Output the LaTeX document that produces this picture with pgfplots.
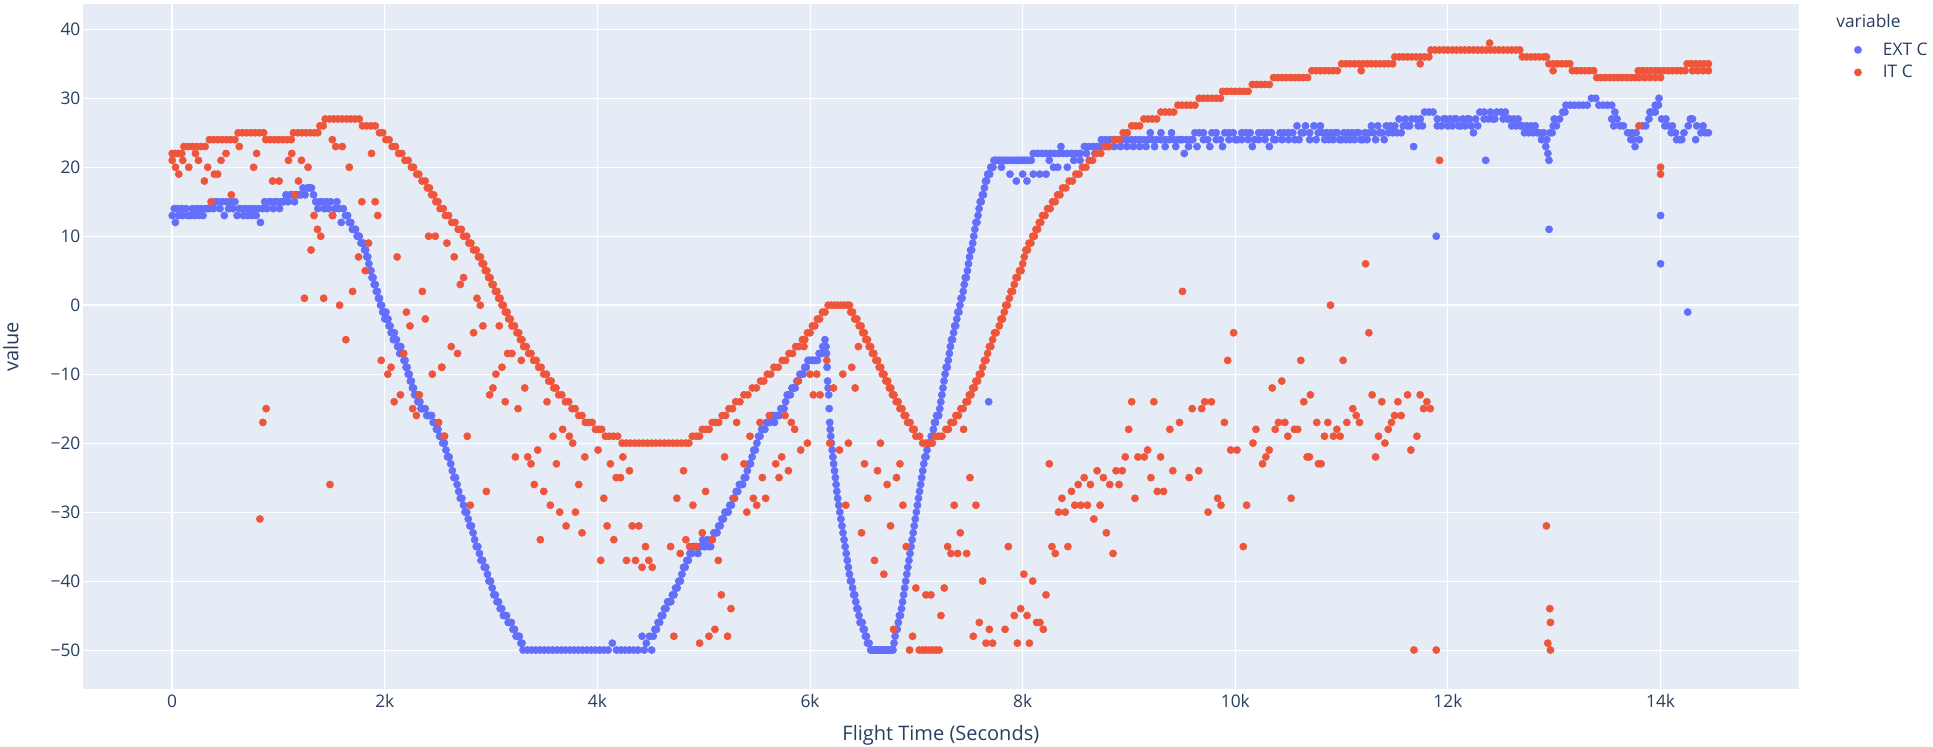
\documentclass[border=0pt]{standalone}
\usepackage{fontspec}
\setmainfont{Open Sans}
\usepackage{pgfplots}
\pgfplotsset{compat=1.18}
\definecolor{extc}{HTML}{636EFA}
\definecolor{itc}{HTML}{EF553B}
\definecolor{plotbg}{HTML}{E5ECF6}
\definecolor{txt}{HTML}{2A3F5F}
\begin{document}
\begin{tikzpicture}
\path[use as bounding box, fill=white] (-62pt,-42.5pt) rectangle (1387.7pt,517pt);
\begin{axis}[
  at={(0pt,0pt)}, anchor=south west, scale only axis,
  width=1287.2pt, height=514pt,
  xmin=-842, xmax=15302, ymin=-55.7, ymax=43.67,
  scaled x ticks=false, scaled y ticks=false,
  axis background/.style={fill=plotbg},
  axis line style={draw=none},
  major tick length=0pt, tick style={draw=none},
  xtick={0,2000,4000,6000,8000,10000,12000,14000},
  xticklabels={0,2k,4k,6k,8k,10k,12k,14k},
  ytick={-50,-40,-30,-20,-10,0,10,20,30,40},
  yticklabels={−50,−40,−30,−20,−10,0,10,20,30,40},
  grid=major,
  major grid style={white, line width=0.75pt},
  extra x ticks={0}, extra x tick labels={},
  extra y ticks={0}, extra y tick labels={},
  extra tick style={major grid style={white, line width=1.5pt}},
  tick label style={font=\fontsize{13}{15}\selectfont, text=txt},
  xticklabel style={anchor=base, inner sep=0pt, yshift=-13.4pt},
  yticklabel style={anchor=east, inner sep=0pt, xshift=-1.5pt},
  legend entries={EXT C, IT C},
  legend image code/.code={\draw[#1] plot coordinates {(0pt,0pt)};},
  legend style={at={(1.0321,0.948)}, anchor=north west, draw=none, fill=none,
    inner sep=0pt, row sep=2pt, font=\fontsize{13}{15}\selectfont, text=txt,
    /tikz/every odd column/.append style={column sep=14pt}},
  legend cell align=left,
]
% EXT C main
\addplot[only marks, mark=*, mark size=2.7pt, color=extc] coordinates {
(0,13)(20,14)(30,12)(50,14)(60,13)(90,14)(100,13)(130,14)(150,13)(170,13)(190,14)(210,13)(230,14)(250,13)(270,14)(290,13)(310,14)(330,14)(350,14)(370,15)(390,14)(410,15)(430,15)(450,14)(470,15)(490,13)(510,15)(530,14)(550,15)(570,14)(590,15)(610,13)(630,14)(650,14)(670,13)(690,14)(710,13)(730,14)(750,13)(770,14)(790,13)(810,14)(830,12)(850,14)(870,15)(890,14)(910,15)(930,15)(950,14)(970,15)(990,15)(1010,14)(1030,15)(1050,15)(1070,16)(1090,15)(1110,16)(1130,16)(1150,15)(1170,16)(1190,16)(1210,16)(1230,17)(1250,16)(1270,17)(1290,17)(1310,17)(1330,16)(1350,15)(1370,14)(1390,15)(1410,15)(1430,14)(1450,15)(1470,14)(1490,15)(1510,13)(1530,14)(1550,15)(1570,14)(1590,12)(1610,14)(1630,13)
(1650,13)(1680,12)(1710,11)(1740,10)(1760,10)(1790,9)(1810,8)(1830,7)(1850,6)(1870,5)(1890,4)(1910,3)(1930,2)(1950,1)(1970,0)(1990,-1)(2010,-1)(2030,-2)(2050,-3)(2070,-4)(2090,-4)(2110,-5)(2130,-6)(2150,-6)(2170,-7)(2190,-8)(2210,-9)(2230,-10)(2250,-11)(2270,-12)(2290,-13)(2310,-14)(2330,-14)(2350,-15)(2380,-15)(2410,-16)(2440,-16)(2470,-17)(2500,-18)(2530,-19)(2560,-20)(2590,-22)(2620,-23)(2650,-25)(2680,-26)(2710,-28)(2740,-29)(2770,-30)(2800,-32)(2830,-33)(2860,-35)(2890,-36)(2920,-37)(2950,-38)(2980,-40)(3010,-41)(3040,-42)(3070,-43)(3100,-44)(3130,-45)(3160,-46)(3190,-46)(3220,-47)(3250,-48)(3280,-49)(3300,-50)
(3340,-50)(3380,-50)(3420,-50)(3460,-50)(3500,-50)(3540,-50)(3580,-50)(3620,-50)(3660,-50)(3700,-50)(3740,-50)(3780,-50)(3820,-50)(3860,-50)(3900,-50)(3940,-50)(3980,-50)(4020,-50)(4060,-50)(4100,-50)(4140,-49)(4180,-50)(4220,-50)(4260,-50)(4300,-50)(4340,-50)(4380,-50)(4420,-48)(4440,-50)(4460,-49)(4490,-48)(4510,-50)(4540,-47)(4570,-46)(4600,-45)(4630,-44)(4660,-43)(4690,-43)(4720,-42)(4750,-41)(4780,-40)(4810,-38)(4840,-37)(4870,-36)(4900,-35)(4930,-35)(4960,-35)(4990,-34)(5020,-35)(5050,-35)(5080,-34)(5110,-33)(5140,-32)(5170,-31)(5200,-30)(5230,-30)(5260,-29)(5290,-28)(5320,-27)(5350,-26)(5380,-25)(5410,-24)(5440,-23)(5470,-21)(5500,-20)(5530,-19)(5560,-18)(5590,-17)(5620,-17)(5650,-16)(5680,-16)(5710,-16)(5740,-15)(5770,-14)(5800,-13)(5830,-12)(5860,-12)(5890,-11)(5920,-10)(5950,-9)(5980,-8)(6010,-8)(6040,-8)(6070,-8)(6100,-7)(6120,-6)(6140,-5)(6150,-6)(6160,-9)(6170,-12)(6180,-15)(6190,-18)(6200,-20)(6215,-22)(6230,-24)(6245,-26)(6260,-28)(6280,-30)(6300,-32)(6320,-34)(6340,-36)(6360,-38)(6380,-40)(6400,-41)(6420,-42)(6440,-44)(6460,-45)(6480,-46)(6500,-47)(6520,-48)(6540,-49)(6570,-50)(6600,-50)(6630,-50)(6660,-50)(6690,-50)(6720,-50)(6750,-50)(6780,-50)(6800,-48)(6820,-47)(6840,-45)(6860,-44)(6880,-42)(6900,-40)(6920,-38)(6940,-36)(6960,-34)(6980,-32)(7000,-30)(7020,-28)(7040,-26)(7060,-24)(7080,-22)(7100,-21)(7120,-20)(7140,-19)(7160,-18)(7180,-17)(7200,-16)(7220,-15)(7240,-13)(7260,-11)(7280,-9)(7300,-8)(7320,-6)(7340,-5)(7360,-3)(7380,-2)(7400,-1)(7420,1)(7440,2)(7460,4)(7480,5)(7500,7)(7520,8)(7540,10)(7560,12)(7580,13)(7600,15)(7620,16)(7640,17)(7660,18)(7680,19)(7700,20)(7720,20)
(7740,21)(7780,21)(7820,21)(7860,21)(7900,21)(7940,21)(7980,21)(8020,21)(8060,21)(8100,22)(8140,22)(8180,22)(8220,22)(8260,22)(8300,22)(8340,22)(8380,22)(8420,22)(8460,22)(8500,22)(8540,22)(8580,23)(8620,23)(8660,23)(8700,23)(8740,24)(8780,24)(8820,24)(8860,24)(8900,24)(8940,24)(8980,24)(9020,24)(9060,24)(9100,24)(9140,24)(9180,24)(9220,24)(9260,24)(9300,24)(9340,24)(9380,24)(9420,24)(9460,24)(9500,24)(9540,24)(9580,24)(9620,25)(9660,25)(9700,25)(9740,24)(9780,25)(9820,25)(9860,24)(9900,25)(9940,25)(9980,25)(10020,24)(10060,25)(10100,25)(10140,25)(10180,24)(10220,25)(10260,25)(10300,25)(10340,25)(10380,24)(10420,25)(10460,25)(10500,25)(10540,25)(10580,26)(10620,25)(10660,26)(10700,25)(10740,26)(10780,25)(10820,25)(10860,25)(10900,25)(10940,25)(10980,24)(11020,25)(11060,25)(11100,25)(11140,25)(11180,24)(11220,25)(11260,25)(11300,25)(11340,26)(11380,25)(11420,26)(11460,26)(11500,26)(11540,27)(11580,26)(11620,26)(11660,27)(11700,27)(11740,27)(11780,28)(11820,28)(11860,28)(11900,27)(11940,26)(11980,27)(12020,27)(12060,27)(12100,26)(12140,27)(12180,27)(12220,26)(12260,27)(12300,28)(12340,28)(12380,27)(12420,27)(12460,28)(12500,28)(12540,28)(12580,27)(12620,27)(12660,27)(12700,26)(12740,26)(12780,26)(12820,26)(12860,25)(12900,25)(12930,24)(12960,25)(12990,26)(13020,26)(13050,27)(13080,28)(13110,29)(13150,29)(13190,29)(13230,29)(13270,29)(13310,29)(13350,30)(13390,30)(13420,29)(13460,29)(13500,29)(13540,29)(13570,28)(13590,27)(13620,26)(13650,26)(13690,25)(13730,25)(13770,25)(13800,24)(13830,26)(13860,26)(13890,27)(13920,28)(13950,28)(13980,29)(14010,27)(14040,26)(14070,26)(14100,25)(14140,25)(14180,24)(14220,25)(14260,26)(14300,27)(14340,26)(14380,25)(14420,25)(14450,25)
};
% EXT C further readings (between the ones above, second row, isolated)
\addplot[only marks, mark=*, mark size=2.7pt, color=extc, forget plot] coordinates {
(1665,12)(1695,11)(1725,11)(1750,10)(1775,9)(1800,9)(1820,8)(1840,7)(1860,5)(1880,4)(1900,3)(1920,2)(1940,1)(1960,0)(1980,-1)(2000,-2)(2020,-2)(2040,-3)(2060,-4)(2080,-5)(2100,-5)(2120,-6)(2140,-7)(2160,-7)(2180,-8)(2200,-9)(2220,-10)(2240,-11)(2260,-12)(2280,-13)(2300,-13)(2320,-14)(2340,-15)(2365,-15)(2395,-16)(2425,-16)(2455,-17)(2485,-18)(2515,-19)(2545,-20)(2575,-21)(2605,-22)(2635,-24)(2665,-25)(2695,-27)(2725,-28)(2755,-30)(2785,-31)(2815,-32)(2845,-34)(2875,-35)(2905,-37)(2935,-38)(2965,-39)(2995,-40)(3025,-42)(3055,-43)(3085,-44)(3115,-45)(3145,-45)(3175,-46)(3205,-47)(3235,-48)(3265,-48)(3290,-49)
(4525,-48)(4555,-47)(4585,-46)(4615,-45)(4645,-44)(4675,-43)(4705,-42)(4735,-41)(4765,-40)(4795,-39)(4825,-38)(4855,-37)(4885,-36)(4915,-35)(4945,-36)(4975,-35)(5005,-35)(5035,-34)(5065,-35)(5095,-33)(5125,-33)(5155,-32)(5185,-31)(5215,-30)(5245,-29)(5275,-28)(5305,-27)(5335,-26)(5365,-26)(5395,-25)(5425,-23)(5455,-22)(5485,-21)(5515,-19)(5545,-18)(5575,-18)(5605,-17)(5635,-16)(5665,-17)(5695,-16)(5725,-15)(5755,-15)(5785,-13)(5815,-13)(5845,-12)(5875,-11)(5905,-10)(5935,-10)(5965,-9)(5995,-8)(6025,-8)(6055,-8)(6085,-7)(6110,-7)(6130,-6)
(6155,-7)(6165,-11)(6175,-13)(6185,-17)(6195,-19)(6208,-21)(6222,-23)(6238,-25)(6252,-27)(6270,-29)(6290,-31)(6310,-33)(6330,-35)(6350,-37)(6370,-39)(6390,-40)(6410,-42)(6430,-43)(6450,-44)(6470,-46)(6490,-46)(6510,-47)(6530,-48)(6555,-49)(6585,-50)(6615,-50)(6645,-50)(6675,-50)(6705,-50)(6735,-50)(6765,-50)(6790,-49)
(6810,-47)(6830,-46)(6850,-45)(6870,-43)(6890,-41)(6910,-39)(6930,-37)(6950,-35)(6970,-33)(6990,-31)(7010,-29)(7030,-27)(7050,-25)(7070,-23)(7090,-22)(7110,-20)(7130,-20)(7150,-19)(7170,-17)(7190,-16)(7210,-16)(7230,-14)(7250,-12)(7270,-10)(7290,-9)(7310,-7)(7330,-5)(7350,-4)(7370,-3)(7390,-1)(7410,0)(7430,1)(7450,3)(7470,4)(7490,6)(7510,8)(7530,9)(7550,11)(7570,12)(7590,14)(7610,15)(7630,16)(7650,18)(7670,19)(7690,19)(7710,20)(7730,21)(7760,21)(7800,21)(7840,21)(7880,21)(7920,21)(7960,21)(8000,21)(8040,21)(8080,21)
(7800,20)(7880,19)(7940,18)(8000,19)(8040,18)(8100,19)(8160,19)(8220,19)(8250,21)(8290,20)(8330,20)(8360,23)(8420,20)(8480,21)(8540,21)(8600,22)(8680,22)(8740,23)(8800,23)(8860,23)(8920,23)(8980,23)(9040,23)(9100,23)(9160,23)(9200,25)(9240,23)(9300,25)(9340,23)(9400,25)(9440,23)(9480,24)(9520,22)(9560,23)(9600,24)(9640,23)(9700,24)(9760,23)(9820,24)(9880,23)(9940,24)(10000,24)(10060,24)(10120,24)(10160,23)(10220,24)(10280,24)(10320,23)(10360,24)(10440,24)(10500,24)(10560,24)(10600,24)(10640,25)(10700,24)(10760,24)(10800,26)(10840,24)(10880,24)(10920,24)(10960,25)(11000,24)(11040,24)(11080,24)(11120,24)(11160,25)(11200,24)(11240,24)(11280,26)(11320,24)(11360,25)(11400,24)(11440,25)(11480,25)(11520,25)(11560,25)(11600,27)(11640,26)(11720,26)(11760,26)(11900,26)(11960,27)(12000,26)(12040,26)(12080,27)(12120,26)(12160,26)(12200,27)(12240,25)(12280,26)(12340,27)(12400,28)(12440,27)(12520,27)(12560,27)(12600,26)(12640,26)(12680,26)(12720,25)(12760,25)(12800,25)(12840,25)(12880,24)(12920,23)(12940,22)(12950,21)(12980,25)(13000,27)(13100,28)(13540,27)(13560,26)(13720,24)(13740,24)(13760,23)(13900,28)(13950,29)(13985,30)(14050,27)(14110,26)(14150,24)(14200,24)(14280,27)(14330,24)(14400,26)
(7680,-14)(11677,23)(11890,10)(12355,21)(12951,11)(14000,13)(14000,6)(14255,-1)
};
% IT C main
\addplot[only marks, mark=*, mark size=2.7pt, color=itc] coordinates {
(0,22)(30,22)(60,22)(90,22)(110,23)(150,23)(190,23)(230,23)(270,23)(310,23)(350,24)(390,24)(430,24)(470,24)(510,24)(550,24)(590,24)(620,25)(660,25)(700,25)(740,25)(780,25)(820,25)(860,25)(880,24)(920,24)(960,24)(1000,24)(1040,24)(1080,24)(1120,24)(1140,25)(1180,25)(1220,25)(1260,25)(1300,25)(1340,25)(1370,25)(1390,26)(1420,26)(1440,27)(1480,27)(1520,27)(1560,27)(1600,27)(1640,27)(1680,27)(1720,27)(1760,27)(1790,26)(1830,26)(1870,26)(1910,26)(1950,25)(1980,25)(2010,24)(2040,24)(2070,23)(2100,23)(2130,22)(2160,22)(2190,21)(2220,21)(2250,20)(2270,20)(2300,19)(2320,19)(2350,18)(2380,18)(2400,17)(2420,17)(2440,16)(2460,16)(2480,15)(2500,15)(2520,14)(2550,14)(2570,13)(2600,13)(2630,12)(2660,12)(2690,11)(2720,11)(2740,10)(2770,10)(2790,9)(2810,9)(2835,8)(2860,8)(2880,7)(2900,7)(2915,6)(2930,6)(2945,5)(2960,5)(2976,4)(2990,4)(3008,3)(3020,3)(3040,2)(3055,2)(3071,1)(3085,1)(3102,0)(3115,0)(3133,-1)(3150,-1)(3165,-2)(3180,-2)(3196,-3)(3220,-3)(3243,-4)(3260,-4)(3275,-5)(3290,-5)(3306,-6)(3330,-6)(3353,-7)(3375,-7)(3400,-8)(3425,-8)(3447,-9)(3470,-9)(3495,-10)(3520,-10)(3541,-11)(3565,-11)(3589,-12)(3610,-12)(3636,-13)(3665,-13)(3699,-14)(3730,-14)(3761,-15)(3790,-15)(3824,-16)(3855,-16)(3887,-17)(3920,-17)(3950,-17)(3981,-18)(4010,-18)(4040,-18)(4075,-19)(4110,-19)(4150,-19)(4190,-19)(4232,-20)(4270,-20)(4310,-20)(4350,-20)(4390,-20)(4430,-20)(4470,-20)(4510,-20)(4550,-20)(4590,-20)(4630,-20)(4670,-20)(4710,-20)(4750,-20)(4790,-20)(4830,-20)(4860,-20)(4892,-19)(4930,-19)(4960,-19)(4986,-18)(5020,-18)(5050,-18)(5080,-17)(5110,-17)(5140,-17)(5174,-16)(5205,-16)(5237,-15)(5270,-15)(5300,-14)(5340,-14)(5378,-13)(5415,-13)(5457,-12)(5495,-12)(5535,-11)(5565,-11)(5598,-10)(5630,-10)(5661,-9)(5700,-9)(5739,-8)(5770,-8)(5802,-7)(5835,-7)(5865,-6)(5895,-6)(5928,-5)(5950,-5)(5975,-4)(6000,-4)(6022,-3)(6045,-3)(6069,-2)(6090,-2)(6116,-1)(6140,-1)(6170,0)(6200,0)(6230,0)(6260,0)(6290,0)(6320,0)(6350,0)(6370,0)(6383,-1)(6400,-1)(6420,-2)(6440,-2)(6462,-3)(6480,-3)(6495,-4)(6510,-4)(6524,-5)(6540,-5)(6556,-6)(6570,-6)(6587,-7)(6600,-7)(6618,-8)(6635,-8)(6650,-9)(6665,-9)(6680,-10)(6695,-10)(6713,-11)(6730,-11)(6745,-12)(6760,-12)(6775,-13)(6790,-13)(6810,-14)(6828,-14)(6845,-15)(6865,-15)(6885,-16)(6900,-16)(6917,-17)(6940,-17)(6964,-18)(6980,-18)(6995,-19)(7030,-19)(7060,-20)(7090,-20)(7120,-20)(7150,-20)(7180,-19)(7210,-19)(7240,-19)(7278,-18)(7300,-18)(7325,-17)(7350,-17)(7372,-16)(7395,-16)(7419,-15)(7440,-15)(7466,-14)(7482,-14)(7498,-13)(7514,-13)(7529,-12)(7545,-12)(7560,-11)(7576,-11)(7592,-10)(7608,-10)(7623,-9)(7640,-8)(7655,-8)(7670,-7)(7686,-6)(7700,-6)(7717,-5)(7735,-4)(7750,-4)(7780,-3)(7795,-2)(7810,-2)(7827,-1)(7840,0)(7855,0)(7874,1)(7890,2)(7905,2)(7921,3)(7937,4)(7950,4)(7969,5)(7985,5)(8000,6)(8015,7)(8030,8)(8045,8)(8060,9)(8077,9)(8094,10)(8110,10)(8125,11)(8140,11)(8156,12)(8170,12)(8187,13)(8210,13)(8234,14)(8258,14)(8281,15)(8305,15)(8328,16)(8350,16)(8375,17)(8405,17)(8437,18)(8468,18)(8500,19)(8530,19)(8562,20)(8595,20)(8625,21)(8656,21)(8690,22)(8734,22)(8770,23)(8812,23)(8860,24)(8906,24)(8945,25)(8984,25)(9025,26)(9062,26)(9100,26)(9140,27)(9180,27)(9220,27)(9260,27)(9300,28)(9340,28)(9380,28)(9420,28)(9460,29)(9500,29)(9540,29)(9580,29)(9620,29)(9660,30)(9700,30)(9740,30)(9780,30)(9820,30)(9860,30)(9880,31)(9920,31)(9960,31)(10000,31)(10040,31)(10080,31)(10120,31)(10160,32)(10200,32)(10240,32)(10280,32)(10320,32)(10360,33)(10400,33)(10440,33)(10480,33)(10520,33)(10560,33)(10600,33)(10640,33)(10680,33)(10720,34)(10760,34)(10800,34)(10840,34)(10880,34)(10920,34)(10960,34)(11000,35)(11040,35)(11080,35)(11120,35)(11160,35)(11200,35)(11240,35)(11280,35)(11320,35)(11360,35)(11400,35)(11440,35)(11480,35)(11500,36)(11540,36)(11580,36)(11620,36)(11660,36)(11700,36)(11740,36)(11780,36)(11820,36)(11840,37)(11880,37)(11920,37)(11960,37)(12000,37)(12040,37)(12080,37)(12120,37)(12160,37)(12200,37)(12240,37)(12280,37)(12320,37)(12360,37)(12400,37)(12440,37)(12480,37)(12520,37)(12560,37)(12600,37)(12640,37)(12675,37)(12700,36)(12740,36)(12780,36)(12820,36)(12860,36)(12900,36)(12926,36)(12950,35)(12990,35)(13030,35)(13070,35)(13110,35)(13146,35)(13170,34)(13210,34)(13250,34)(13290,34)(13330,34)(13370,34)(13400,33)(13440,33)(13480,33)(13520,33)(13560,33)(13600,33)(13640,33)(13680,33)(13720,33)(13760,33)(13800,33)(13850,33)(13900,33)(13950,33)(14000,33)(13790,34)(13830,34)(13870,34)(13910,34)(13950,34)(13990,34)(14030,34)(14070,34)(14110,34)(14150,34)(14190,34)(14230,34)(14300,34)(14350,34)(14400,34)(14450,34)(14250,35)(14290,35)(14330,35)(14370,35)(14410,35)(14450,35)
};
% IT C scattered readings
\addplot[only marks, mark=*, mark size=2.7pt, color=itc, forget plot] coordinates {
(0,21)(31,20)(62,19)(100,21)(156,20)(219,22)(247,21)(303,18)(334,20)(366,15)(397,19)(428,19)(459,21)(506,22)(556,16)(631,23)(766,20)(794,22)(853,-17)(884,-15)(825,-31)(944,18)(1006,18)(1094,21)(1125,22)(1156,16)(1188,18)(1216,21)(1278,20)(1244,1)(1306,8)(1334,13)(1366,11)(1397,10)(1425,1)(1484,-26)(1506,13)(1506,24)(1538,23)(1575,0)(1600,23)(1634,-5)(1666,20)(1697,2)(1784,15)(1816,5)(1753,7)(1847,9)(1875,22)(1909,15)(1934,13)(1966,-8)(2028,-10)(2059,-9)(2088,-14)(2147,-13)(2116,7)(2203,-1)(2237,-3)(2178,-7)(2262,-15)(2297,-16)(2325,-13)(2353,2)(2381,-2)(2412,10)(2475,10)(2447,-10)(2534,-9)(2506,-17)(2559,-19)(2584,9)
(2653,7)(2710,3)(2741,4)(2867,1)(2898,0)(2835,-4)(2923,-3)(3077,-3)(2625,-6)(2684,-7)(2537,-9)(2986,-13)(3017,-12)(3045,-10)(3102,-9)(3155,-7)(3196,-7)(3284,-8)(3316,-12)(3133,-14)(3253,-15)(2562,-19)(2776,-19)(2804,-29)(2955,-27)(3228,-22)(3344,-22)(3375,-23)(3438,-21)(3406,-26)(3495,-27)(3463,-34)(3526,-14)(3557,-29)(3645,-30)(3582,-19)(3614,-23)(3673,-18)(3736,-19)(3767,-20)(3705,-32)(3793,-30)(3824,-26)(3855,-33)(3881,-22)(4006,-21)(4031,-37)(4060,-28)(4091,-32)(4122,-23)(4154,-34)(4176,-25)(4217,-25)(4239,-22)(4301,-24)(4273,-37)(4327,-32)(4389,-32)(4358,-37)(4420,-38)(4452,-35)(4483,-37)(4515,-38)(4688,-35)(4719,-48)(4747,-28)(4779,-36)(4810,-24)(4832,-34)(4898,-29)(4867,-35)(4929,-35)(4961,-49)(4986,-33)(5017,-27)(5049,-48)(5080,-34)(5105,-47)(5137,-37)(5165,-42)(5196,-22)(5224,-48)(5256,-44)(5284,-28)(5309,-17)
(5378,-23)(5405,-30)(5435,-19)(5466,-28)(5498,-29)(5551,-25)(5582,-28)(5529,-17)(5617,-16)(5677,-23)(5708,-25)(5733,-22)(5765,-16)(5796,-24)(5824,-17)(5855,-18)(5887,-11)(5912,-21)(5975,-20)(5943,-6)(6000,-10)(6031,-13)(6094,-13)(6063,-10)(6157,-8)(6185,-20)(6220,-12)(6276,-21)(6308,-10)(6336,-29)(6361,-20)(6392,-9)(6424,-12)(6455,-6)(6484,-33)(6512,-23)(6543,-28)(6606,-37)(6634,-24)(6662,-20)(6694,-39)(6725,-26)(6757,-32)(6785,-47)(6813,-25)(6845,-23)(6873,-29)(6904,-35)(6936,-50)(6964,-48)(6995,-41)(7027,-50)(7060,-50)(7090,-50)(7120,-50)(7152,-50)(7185,-50)(7215,-50)(7090,-42)(7137,-42)(7231,-45)(7262,-41)(7294,-35)(7325,-36)(7388,-36)(7356,-29)(7413,-33)(7444,-18)(7473,-36)(7504,-25)(7535,-48)(7560,-29)(7592,-46)(7623,-40)(7655,-49)(7717,-49)(7686,-47)(7834,-47)(7865,-35)(7921,-45)(7950,-49)(7981,-44)(8011,-39)(8041,-45)(8063,-49)
(8094,-40)(8131,-46)(8162,-46)(8194,-47)(8219,-42)(8250,-23)(8275,-35)(8306,-36)(8337,-30)(8400,-30)(8369,-28)(8425,-35)(8459,-27)(8490,-29)(8547,-29)(8609,-29)(8522,-26)(8578,-25)(8637,-26)(8669,-31)(8700,-24)(8728,-29)(8759,-25)(8787,-33)(8819,-26)(8850,-36)(8878,-24)(8937,-24)(8906,-26)(8965,-22)(8997,-18)(9025,-14)(9056,-28)(9084,-22)(9144,-22)(9175,-21)(9206,-25)(9234,-14)(9266,-27)(9325,-27)(9297,-22)(9384,-18)(9412,-24)(9475,-17)(9503,2)(9566,-25)(9594,-15)(9656,-24)(9684,-15)(9712,-14)(9775,-14)(9744,-30)(9834,-28)(9865,-29)(9897,-17)(9928,-8)(9956,-21)(10016,-21)(9984,-4)(10075,-35)(10106,-29)(10166,-20)(10194,-18)(10256,-23)(10287,-22)(10319,-21)(10347,-12)(10375,-18)(10406,-17)(10466,-17)(10437,-11)(10494,-19)(10525,-28)(10556,-18)(10587,-18)(10616,-8)(10644,-14)(10675,-22)(10706,-13)(10766,-17)(10781,-23)
(10697,-22)(10807,-23)(10838,-19)(10870,-17)(10895,0)(10923,-19)(10986,-19)(10955,-18)(11014,-8)(11049,-17)(11105,-15)(11137,-16)(11168,-17)(11225,6)(11256,-4)(11287,-13)(11319,-22)(11347,-19)(11378,-14)(11407,-20)(11438,-18)(11469,-17)(11498,-16)(11560,-16)(11529,-14)(11620,-13)(11651,-21)(11680,-50)(11708,-19)(11739,-13)(11771,-15)(11834,-15)(11802,-14)(11890,-50)(11921,21)(12926,-32)(12958,-44)(12964,-46)(12939,-49)(12964,-50)(13796,26)(14000,20)(14000,19)
(11184,34)(11739,35)(12392,38)(12989,34)
};
\end{axis}
\node[text=txt, font=\fontsize{15}{18}\selectfont] at (643.6pt,-34.3pt) {Flight Time (Seconds)};
\node[text=txt, font=\fontsize{15}{18}\selectfont, rotate=90] at (-53.8pt,257pt) {value};
\node[text=txt, font=\fontsize{13}{15}\selectfont, anchor=west, inner sep=0pt] at (1315pt,501.2pt) {variable};
\end{tikzpicture}
\end{document}
